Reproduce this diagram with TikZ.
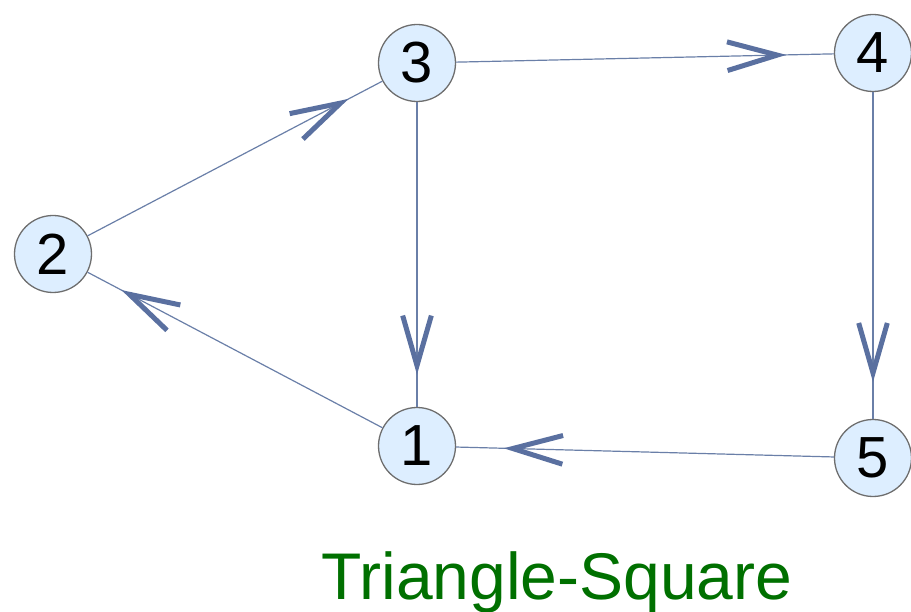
\documentclass[tikz,border=0pt]{standalone}
\usepackage{fontspec}
\setmainfont{Liberation Sans}
\usetikzlibrary{calc}
\definecolor{edgec}{HTML}{6A7FA8}
\definecolor{headc}{HTML}{5A70A0}
\definecolor{nodefill}{HTML}{DDEEFF}
\definecolor{nodeborder}{HTML}{6E6E6E}
\definecolor{titlec}{HTML}{007000}
\tikzset{
  vert/.style={circle, draw=nodeborder, line width=1.3pt, fill=nodefill, minimum size=77pt, inner sep=0pt, font=\fontsize{58}{58}\selectfont},
  edge/.style={draw=edgec, line width=1.2pt},
  head/.style={draw=headc, line width=5pt, line cap=butt}
}
\newcommand{\vhead}[2]{%
  \coordinate (t) at ($(#1)!0.79!(#2)$);
  \draw[head] ($(t)!52pt!16:(#1)$) -- (t) -- ($(t)!52pt!-16:(#1)$);
}
\begin{document}
\begin{tikzpicture}[x=1pt,y=-1pt]
\useasboundingbox (0,0) rectangle (911,612);
\node[vert] (n3) at (417,63) {3};
\node[vert] (n4) at (873,53) {4};
\node[vert] (n2) at (53,254) {2};
\node[vert] (n1) at (417,446) {1};
\node[vert] (n5) at (873,458) {5};
\draw[edge] (n2) -- (n3);
\draw[edge] (n3) -- (n4);
\draw[edge] (n3) -- (n1);
\draw[edge] (n4) -- (n5);
\draw[edge] (n5) -- (n1);
\draw[edge] (n1) -- (n2);
\vhead{n2}{n3}
\vhead{n3}{n4}
\vhead{n3}{n1}
\vhead{n4}{n5}
\vhead{n5}{n1}
\vhead{n1}{n2}
\node[anchor=base, text=titlec, font=\fontsize{66}{66}\selectfont, inner sep=0pt] (title) at (557,599) {Triangle-Square};
\end{tikzpicture}
\end{document}
